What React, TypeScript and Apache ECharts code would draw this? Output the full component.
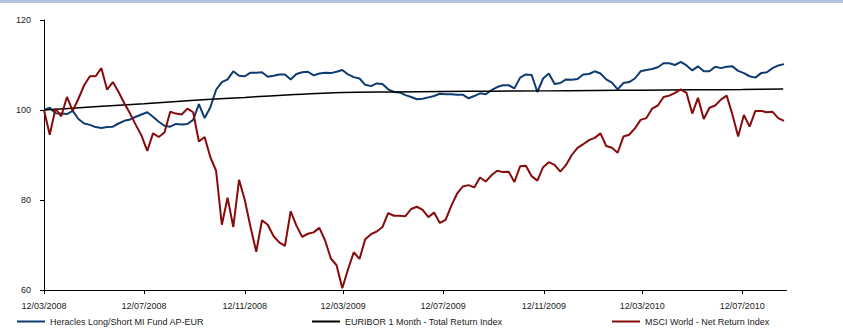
import React, { useEffect, useRef } from "react";
import * as echarts from "echarts";

const heraclesName = "Heracles Long/Short MI Fund AP-EUR";
const euriborName = "EURIBOR 1 Month - Total Return Index";
const msciName = "MSCI World - Net Return Index";

// weekly observations starting 12/03/2008
const firstDate = "12/03/2008";
const weekCount = 130;

const heraclesValues = [
  100.0, 100.5, 99.3, 99.2, 99.1, 99.8, 98.0, 97.0, 96.7, 96.2,
  96.0, 96.2, 96.3, 97.0, 97.6, 97.9, 98.5, 99.0, 99.5, 98.5,
  97.4, 96.5, 96.3, 96.9, 96.8, 96.9, 97.8, 101.3, 98.2, 100.6,
  104.5, 106.2, 106.8, 108.6, 107.6, 107.5, 108.3, 108.3, 108.4, 107.4,
  107.6, 107.9, 107.9, 106.8, 108.0, 108.4, 108.5, 107.7, 108.1, 108.3,
  108.2, 108.5, 108.9, 107.9, 107.3, 107.0, 105.6, 105.3, 105.9, 105.8,
  104.6, 104.0, 103.9, 103.3, 102.9, 102.4, 102.5, 102.8, 103.1, 103.6,
  103.5, 103.5, 103.4, 103.4, 102.6, 103.1, 103.7, 103.5, 104.4, 105.1,
  105.5, 105.5, 104.8, 107.2, 107.9, 107.8, 104.0, 107.0, 108.1, 105.8,
  106.0, 106.8, 106.7, 106.9, 107.9, 108.0, 108.6, 108.1, 106.8, 106.1,
  104.6, 106.0, 106.2, 107.0, 108.6, 108.9, 109.1, 109.5, 110.4, 110.4,
  110.0, 110.7, 109.9, 108.8, 109.7, 108.6, 108.6, 109.6, 109.3, 109.6,
  109.7, 108.7, 108.2, 107.5, 107.2, 108.2, 108.4, 109.3, 109.9, 110.2,
];

const msciValues = [
  100.0, 94.5, 100.3, 98.6, 102.9, 99.8, 102.5, 105.5, 107.5, 107.5,
  109.3, 104.5, 106.2, 104.0, 101.5, 99.2, 96.7, 94.3, 90.9, 94.8,
  94.0, 95.0, 99.6, 99.2, 99.0, 100.3, 99.5, 93.0, 94.0, 89.5,
  86.5, 74.5, 80.5, 74.0, 84.5, 80.0, 74.0, 68.5, 75.5, 74.5,
  72.0, 70.6, 69.8, 77.5, 74.3, 71.8, 72.5, 72.8, 73.8, 71.0,
  67.0, 65.5, 60.4, 64.6, 68.4, 66.9, 71.3, 72.4, 73.0, 74.0,
  77.1, 76.5, 76.5, 76.4, 78.0, 78.5, 77.8, 76.2, 77.2, 74.9,
  75.6, 78.7, 81.4, 83.0, 83.3, 82.8, 85.0, 84.1, 85.5, 86.5,
  86.2, 86.3, 84.0, 87.5, 87.6, 85.3, 84.3, 87.3, 88.4, 87.8,
  86.3, 87.8, 90.0, 91.6, 92.4, 93.3, 93.8, 94.8, 92.0, 91.6,
  90.5, 94.1, 94.5, 95.9, 97.8, 98.2, 100.3, 101.0, 102.9, 103.2,
  103.8, 104.6, 103.8, 99.2, 102.7, 98.0, 100.5, 101.0, 102.3, 103.2,
  99.0, 94.1, 98.9, 96.3, 99.8, 99.8, 99.5, 99.6, 98.2, 97.6,
];

const euriborDates = [
  "12/03/2008", "12/05/2008", "12/07/2008", "12/09/2008", "12/11/2008",
  "12/01/2009", "12/03/2009", "12/05/2009", "12/07/2009", "12/09/2009",
  "12/11/2009", "12/01/2010", "12/03/2010", "12/05/2010", "12/07/2010",
  "31/08/2010",
];
const euriborValues = [
  100.0, 100.7, 101.4, 102.15, 102.8,
  103.45, 103.9, 104.0, 104.1, 104.18,
  104.25, 104.33, 104.4, 104.48, 104.55,
  104.65,
];

const tickLabels = [
  "12/03/2008", "12/07/2008", "12/11/2008", "12/03/2009",
  "12/07/2009", "12/11/2009", "12/03/2010", "12/07/2010",
];
const axisEndDate = "04/09/2010";

const yMin = 60;
const yMax = 120;
const yStep = 20;

function parseDate(s: string): number {
  const [d, m, y] = s.split("/").map(Number);
  return new Date(y, m - 1, d).getTime();
}
function pad(n: number) {
  return n < 10 ? "0" + n : String(n);
}
function fmt(ts: number): string {
  const d = new Date(ts);
  return pad(d.getDate()) + "/" + pad(d.getMonth() + 1) + "/" + d.getFullYear();
}

export default function App() {
  const ref = useRef<HTMLDivElement>(null);
  useEffect(() => {
    if (!ref.current) return;
    const chart = echarts.init(ref.current, undefined, { renderer: "svg" });
    const start = new Date(parseDate(firstDate));
    const weekDates: number[] = [];
    for (let k = 0; k < weekCount; k++) {
      weekDates.push(
        new Date(start.getFullYear(), start.getMonth(), start.getDate() + 7 * k).getTime()
      );
    }
    const tickValues = tickLabels.map(parseDate);
    const font = "'Liberation Sans', Arial, sans-serif";
    const textColor = "#1a1a1a";
    const legendBase = {
      top: 317,
      padding: 0,
      itemWidth: 28,
      itemHeight: 2,
      icon: "rect",
      selectedMode: false,
      textStyle: { fontSize: 9, color: textColor, fontFamily: font },
    };
    chart.setOption({
      animation: false,
      backgroundColor: "#ffffff",
      graphic: [
        {
          type: "rect",
          left: 0,
          top: 0,
          shape: { width: 843, height: 3 },
          style: { fill: "#b0c4de" },
          silent: true,
        },
      ],
      grid: { left: 44, right: 56.5, top: 20, bottom: 39, containLabel: false },
      legend: [
        { ...legendBase, left: 17, data: [heraclesName] },
        { ...legendBase, left: 312, data: [euriborName] },
        { ...legendBase, left: 612, data: [msciName] },
      ],
      xAxis: {
        type: "value",
        min: parseDate(firstDate),
        max: parseDate(axisEndDate),
        axisLine: { show: true, lineStyle: { color: "#000", width: 1 } },
        axisTick: {
          show: true,
          customValues: tickValues,
          length: 4,
          lineStyle: { color: "#000" },
        },
        axisLabel: {
          customValues: tickValues,
          formatter: (v: number) => fmt(v),
          fontSize: 9,
          color: textColor,
          fontFamily: font,
          margin: 11,
        },
        splitLine: { show: false },
      },
      yAxis: {
        type: "value",
        min: yMin,
        max: yMax,
        interval: yStep,
        axisLine: { show: true, lineStyle: { color: "#000", width: 1 } },
        axisTick: { show: true, length: 4, lineStyle: { color: "#000" } },
        axisLabel: {
          fontSize: 9,
          color: textColor,
          fontFamily: font,
          margin: 13,
        },
        splitLine: { show: false },
      },
      series: [
        {
          name: heraclesName,
          type: "line",
          data: weekDates.map((d, i) => [d, heraclesValues[i]]),
          symbol: "none",
          lineStyle: { color: "#0d3b72", width: 2 },
          itemStyle: { color: "#0d3b72" },
        },
        {
          name: euriborName,
          type: "line",
          data: euriborDates.map((d, i) => [parseDate(d), euriborValues[i]]),
          symbol: "none",
          smooth: 0.3,
          lineStyle: { color: "#000000", width: 1.5 },
          itemStyle: { color: "#000000" },
        },
        {
          name: msciName,
          type: "line",
          data: weekDates.map((d, i) => [d, msciValues[i]]),
          symbol: "none",
          lineStyle: { color: "#870b0b", width: 2 },
          itemStyle: { color: "#870b0b" },
        },
      ],
    });
    return () => chart.dispose();
  }, []);
  return (
    <div
      ref={ref}
      style={{ position: "absolute", left: 0, top: 0, width: 843, height: 329, background: "#fff" }}
    />
  );
}
